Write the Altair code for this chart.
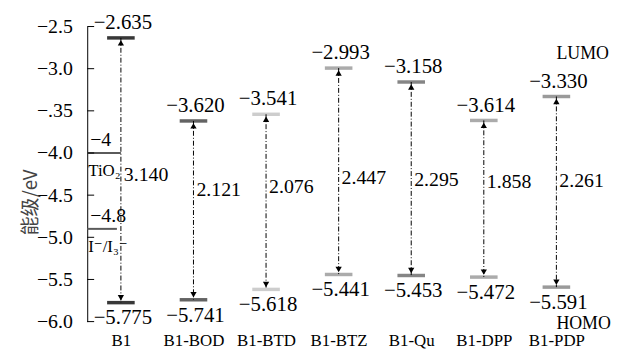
import altair as alt
import pandas as pd

# ---------------- data ----------------
categories = ["B1", "B1-BOD", "B1-BTD", "B1-BTZ", "B1-Qu", "B1-DPP", "B1-PDP"]
lumo = [-2.635, -3.620, -3.541, -2.993, -3.158, -3.614, -3.330]
homo = [-5.775, -5.741, -5.618, -5.441, -5.453, -5.472, -5.591]
gaps = ["3.140", "2.121", "2.076", "2.447", "2.295", "1.858", "2.261"]
gap_label_at = [-4.26, -4.44, -4.41, -4.30, -4.32, -4.35, -4.33]
level_colors = ["#383838", "#636363", "#cdcdcd", "#ababab", "#858585", "#ababab", "#9a9a9a"]

electrode_names = ["TiO₂", "I⁻/I₃⁻"]
electrode_levels = [-4.0, -4.9]
electrode_texts = ["−4", "−4.8"]

y_ticks = [-2.5, -3.0, -3.5, -4.0, -4.5, -5.0, -5.5, -6.0]

XMIN, XMAX = -0.464, 6.63
xs = alt.Scale(domain=[XMIN, XMAX], nice=False, zero=False)
ys = alt.Scale(domain=[-6.0, -2.5], nice=False, zero=False)
SERIF = "Liberation Serif, DejaVu Serif"


def fmt(v):
    return ("−" if v < 0 else "") + f"{abs(v):.3f}"


df = pd.DataFrame({
    "idx": list(range(len(categories))),
    "cat": categories,
    "lumo": lumo,
    "homo": homo,
    "gap": gaps,
    "gap_y": gap_label_at,
    "color": level_colors,
    "lumo_t": [fmt(v) for v in lumo],
    "homo_t": [fmt(v) for v in homo],
})

elec = pd.DataFrame({
    "name": electrode_names,
    "level": electrode_levels,
    "text": electrode_texts,
    "xend": [0.0, -0.055],
})

cat_expr = "[" + ",".join(f"'{c}'" for c in categories) + "][datum.value]"

x_axis = alt.Axis(values=list(range(len(categories))), labelExpr=cat_expr,
                  domain=False, ticks=False, grid=False, labelFont=SERIF,
                  labelFontSize=17, labelColor="black", labelPadding=11,
                  labelFlush=False, labelOverlap=False, title=None)
y_axis = alt.Axis(values=y_ticks,
                  labelExpr="datum.value == -3.5 ? '−.35' : replace(format(datum.value, '.1f'), '-', '−')",
                  ticks=False, domain=True, domainColor="black", domainWidth=1,
                  grid=False, labelFont=SERIF, labelFontSize=20, labelColor="black",
                  labelPadding=15, title="能级/eV", titleFont="Noto Sans CJK SC",
                  titleFontSize=19, titleFontWeight="normal", titleColor="#444444",
                  titleX=-57, titleY=177, titleBaseline="middle", titleAlign="center",
                  titleAngle=270)


def X(field):
    return alt.X(field, scale=xs, axis=x_axis)


def Y(field):
    return alt.Y(field, scale=ys, axis=y_axis)


base = alt.Chart(df)
bars = base.transform_calculate(xa="datum.idx - 0.19", xb="datum.idx + 0.19")

lumo_bars = bars.mark_rule(strokeWidth=3.5).encode(
    x=X("xa:Q"), x2="xb:Q", y=Y("lumo:Q"),
    color=alt.Color("color:N", scale=None),
)
homo_bars = bars.mark_rule(strokeWidth=3.5).encode(
    x=X("xa:Q"), x2="xb:Q", y=Y("homo:Q"),
    color=alt.Color("color:N", scale=None),
)
arrow_line = base.mark_rule(color="black", strokeWidth=1, strokeDash=[5, 2, 1, 2]).encode(
    x=X("idx:Q"), y=Y("lumo:Q"), y2="homo:Q",
)
head_up = base.mark_point(shape="triangle-up", filled=True, size=40, color="black",
                          opacity=1, yOffset=5).encode(x=X("idx:Q"), y=Y("lumo:Q"))
head_down = base.mark_point(shape="triangle-down", filled=True, size=40, color="black",
                            opacity=1, yOffset=-5).encode(x=X("idx:Q"), y=Y("homo:Q"))
lumo_text = base.mark_text(font=SERIF, fontSize=21, dy=-15, dx=2, color="black").encode(
    x=X("idx:Q"), y=Y("lumo:Q"), text="lumo_t:N",
)
homo_text = base.mark_text(font=SERIF, fontSize=21, dy=16, dx=2, color="black").encode(
    x=X("idx:Q"), y=Y("homo:Q"), text="homo_t:N",
)
gap_text = base.mark_text(font=SERIF, fontSize=20, dx=3, align="left", color="black").encode(
    x=X("idx:Q"), y=Y("gap_y:Q"), text="gap:N",
)

ebase = alt.Chart(elec).transform_calculate(xs0=f"{XMIN}")
elec_lines = ebase.mark_rule(strokeWidth=2, color="#5a5a5a").encode(
    x=X("xs0:Q"), x2="xend:Q", y=Y("level:Q"),
)
elec_val = ebase.mark_text(font=SERIF, fontSize=20, dy=-13, align="left", dx=3,
                           color="black").encode(
    x=X("xs0:Q"), y=Y("level:Q"), text="text:N",
)
elec_name = ebase.mark_text(font=SERIF, fontSize=17, dy=18, align="left", dx=1,
                            color="black").encode(
    x=X("xs0:Q"), y=Y("level:Q"), text="name:N",
)

ticks = alt.Chart(pd.DataFrame({"t": y_ticks})).mark_rule(color="black", strokeWidth=1).encode(
    x=alt.value(0), x2=alt.value(7), y=Y("t:Q"),
)

orbit = pd.DataFrame({"name": ["LUMO", "HOMO"], "e": [-2.83, -6.03],
                      "i": [len(categories) - 1, len(categories) - 1]})
orbit_text = alt.Chart(orbit).mark_text(font=SERIF, fontSize=18, align="left",
                                        color="black", dx=0).encode(
    x=X("i:Q"), y=Y("e:Q"), text="name:N",
)

chart = alt.layer(
    lumo_bars, homo_bars, arrow_line, head_up, head_down,
    lumo_text, homo_text, gap_text,
    elec_lines, elec_val, elec_name, ticks, orbit_text,
).properties(
    width=520, height=298,
    padding={"left": 80, "top": 17, "right": 12, "bottom": 31},
    autosize=alt.AutoSizeParams(type="none"),
).configure_view(strokeWidth=0)

chart.save("out.html", embed_options={"renderer": "svg", "actions": False})
